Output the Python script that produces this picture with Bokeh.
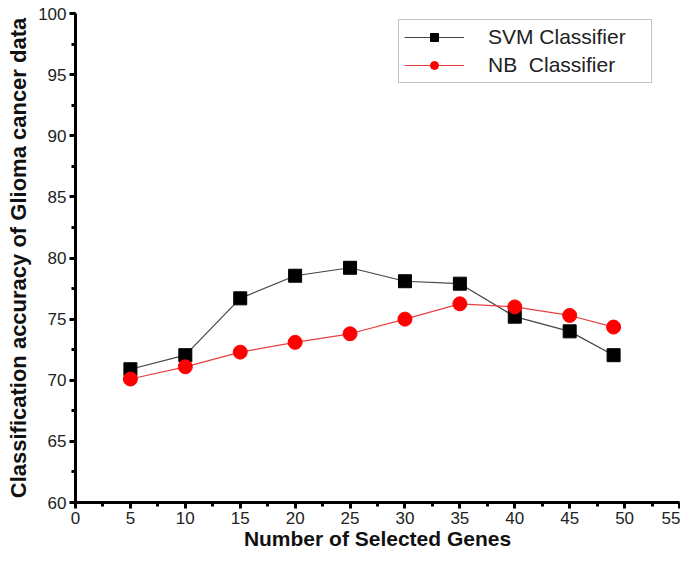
from bokeh.plotting import figure
from bokeh.models import SingleIntervalTicker, Range1d, Legend, LegendItem
from bokeh.embed import file_html
from bokeh.resources import INLINE

genes = [5, 10, 15, 20, 25, 30, 35, 40, 45, 49]
svm_acc = [70.9, 72.05, 76.7, 78.55, 79.2, 78.1, 77.9, 75.2, 74.0, 72.05]
nb_acc = [70.1, 71.1, 72.3, 73.1, 73.8, 75.0, 76.25, 76.0, 75.3, 74.35]
x_label = "Number of Selected Genes"
y_label = "Classification accuracy of Glioma cancer data"
svm_name = "SVM Classifier"
nb_name = "NB  Classifier"

p = figure(width=680, height=556, output_backend="svg", toolbar_location=None,
           x_range=Range1d(0, 55), y_range=Range1d(60, 100),
           min_border_left=75, min_border_right=1, min_border_top=13, min_border_bottom=54)
p.outline_line_color = None
p.xgrid.visible = False
p.ygrid.visible = False
p.background_fill_color = "white"

for ax, iv in ((p.xaxis[0], 5), (p.yaxis[0], 5)):
    ax.ticker = SingleIntervalTicker(interval=iv, num_minor_ticks=2)
    ax.axis_line_width = 3
    ax.axis_line_color = "black"
    ax.major_tick_line_width = 3
    ax.major_tick_line_color = "black"
    ax.minor_tick_line_width = 3
    ax.minor_tick_line_color = "black"
    ax.major_tick_in = 0
    ax.major_tick_out = 6
    ax.minor_tick_in = 0
    ax.minor_tick_out = 4
    ax.major_label_text_font = "Liberation Sans"
    ax.major_label_text_font_size = "17px"
    ax.major_label_text_color = "#222222"
    ax.axis_label_text_font = "Liberation Sans"
    ax.axis_label_text_font_style = "bold"
    ax.axis_label_text_color = "#111111"

p.xaxis[0].axis_label = x_label
p.xaxis[0].axis_label_text_font_size = "21px"
p.xaxis[0].major_label_standoff = 3
p.xaxis[0].axis_label_standoff = 0
p.yaxis[0].axis_label = y_label
p.yaxis[0].axis_label_text_font_size = "22px"
p.yaxis[0].major_label_standoff = 3
p.yaxis[0].axis_label_standoff = 4

r1 = p.line(genes, svm_acc, line_color="#444444", line_width=1.2)
m1 = p.scatter(genes, svm_acc, marker="square", size=13, fill_color="black", line_color="black")
r2 = p.line(genes, nb_acc, line_color="#e84040", line_width=1.2)
m2 = p.scatter(genes, nb_acc, marker="circle", size=14, fill_color="#ff0000", line_color="#ff0000")

legend = Legend(items=[LegendItem(label=svm_name, renderers=[r1, m1]),
                       LegendItem(label=nb_name, renderers=[r2, m2])],
                location=(323, 419))
legend.border_line_color = "#888888"
legend.border_line_width = 1.5
legend.background_fill_color = "white"
legend.background_fill_alpha = 1
legend.label_text_font = "Liberation Sans"
legend.label_text_font_size = "21px"
legend.label_text_color = "#222222"
legend.glyph_width = 60
legend.glyph_height = 20
legend.label_standoff = 24
legend.label_width = 158
legend.padding = 5
legend.spacing = 4
legend.margin = 0
legend.label_height = 20
p.add_layout(legend, "center")

open("out.html", "w").write(file_html(p, INLINE))
